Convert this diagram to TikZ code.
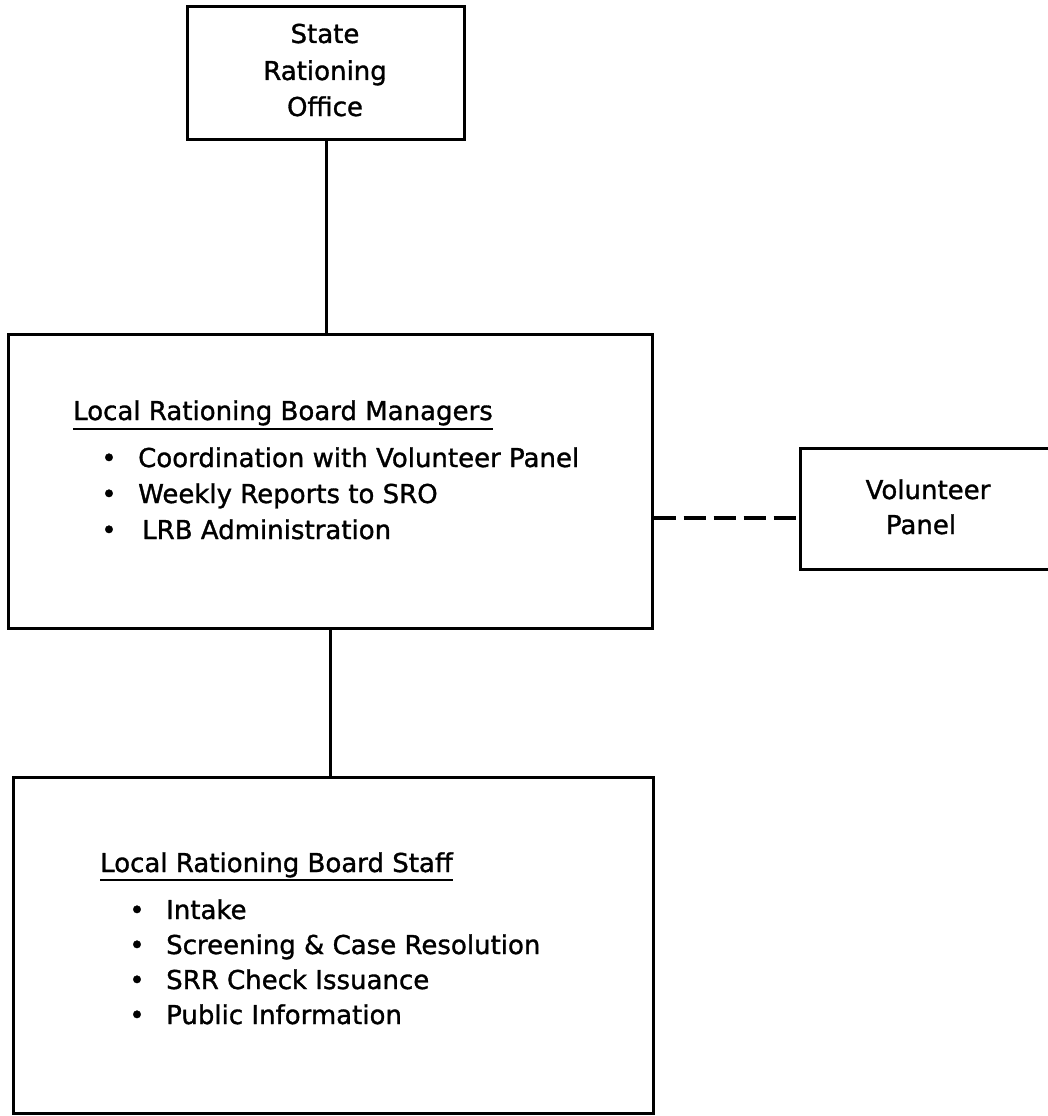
\documentclass[tikz,border=0pt]{standalone}
\usepackage{fontspec}
\setmainfont{DejaVu Sans}[BoldFont=DejaVu Sans, BoldFeatures={FakeBold=1.2}]
\begin{document}
\begin{tikzpicture}[x=1pt,y=-1pt,
  box/.style={draw, line width=3pt, rectangle, inner sep=0pt},
  txt/.style={font=\fontsize{26}{36}\selectfont\bfseries, inner sep=0pt},
  link/.style={line width=3pt},
  uline/.style={line width=2.5pt},
  dlink/.style={line width=4pt, dash pattern=on 22pt off 8pt}]
\useasboundingbox (0,0) rectangle (1047,1116);

% boxes
\node[box, minimum width=277pt, minimum height=132pt] (sro) at (326,73) {};
\node[box, minimum width=644pt, minimum height=294pt] (mgr) at (330,481) {};
\node[box, minimum width=262pt, minimum height=121pt] (vol) at (931,508.5) {};
\node[box, minimum width=640pt, minimum height=336pt] (stf) at (333,945) {};

% State Rationing Office
\node[txt, anchor=base] (s1) at (325,43) {State};
\node[txt, anchor=base] (s2) at (325,80) {Rationing};
\node[txt, anchor=base] (s3) at (325,116) {Office};

% Managers
\node[txt, anchor=base west] (mt) at (73,420) {Local Rationing Board Managers};
\draw[uline] ([yshift=-9pt]mt.base west) -- ([yshift=-9pt]mt.base east);
\node[txt, anchor=base] (mb1) at (109,467) {•};
\node[txt, anchor=base west] (mi1) at (138,467) {Coordination with Volunteer Panel};
\node[txt, anchor=base] (mb2) at (109,503) {•};
\node[txt, anchor=base west] (mi2) at (138,503) {Weekly Reports to SRO};
\node[txt, anchor=base] (mb3) at (109,539) {•};
\node[txt, anchor=base west] (mi3) at (142,539) {LRB Administration};

% Staff
\node[txt, anchor=base west] (st) at (100,872) {Local Rationing Board Staff};
\draw[uline] ([yshift=-8pt]st.base west) -- ([yshift=-8pt]st.base east);
\node[txt, anchor=base] (sb1) at (137,919) {•};
\node[txt, anchor=base west] (si1) at (166,919) {Intake};
\node[txt, anchor=base] (sb2) at (137,954) {•};
\node[txt, anchor=base west] (si2) at (166,954) {Screening \& Case Resolution};
\node[txt, anchor=base] (sb3) at (137,989) {•};
\node[txt, anchor=base west] (si3) at (166,989) {SRR Check Issuance};
\node[txt, anchor=base] (sb4) at (137,1024) {•};
\node[txt, anchor=base west] (si4) at (166,1024) {Public Information};

% Volunteer Panel
\node[txt, anchor=base] (v1) at (928,499) {Volunteer};
\node[txt, anchor=base] (v2) at (921,534) {Panel};

% connectors
\draw[link] (sro.south) -- (sro.south |- mgr.north);
\draw[link] (mgr.south) -- (mgr.south |- stf.north);
\draw[dlink] (mgr.east |- 0,518) -- (vol.west |- 0,518);
\end{tikzpicture}
\end{document}
